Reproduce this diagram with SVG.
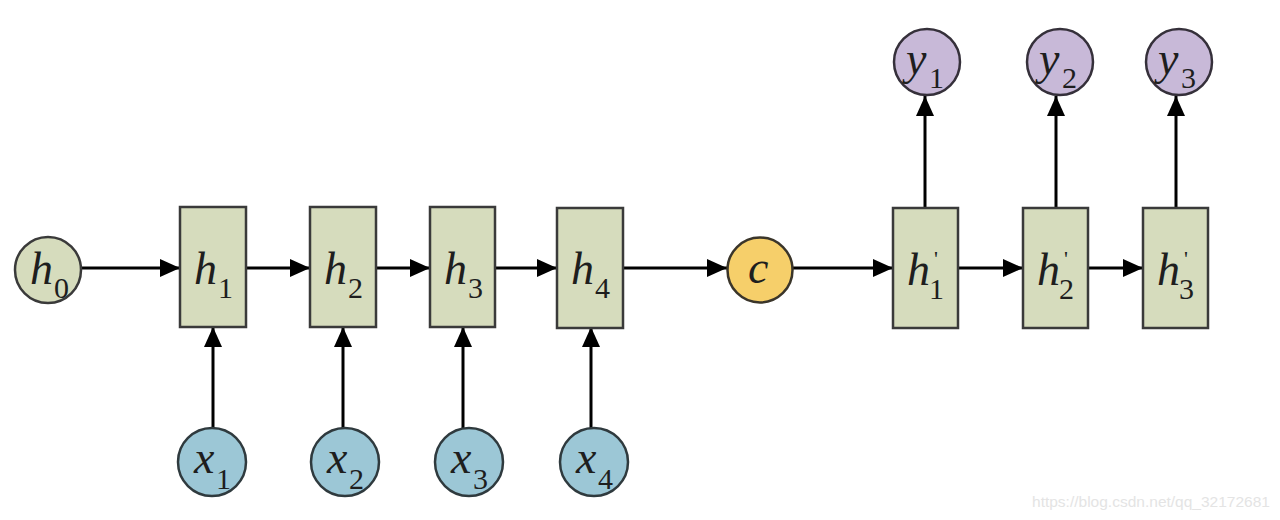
<svg xmlns="http://www.w3.org/2000/svg" width="1280" height="520" viewBox="0 0 1280 520">
<defs>
<marker id="arr" markerWidth="22" markerHeight="20" refX="20" refY="10" orient="auto" markerUnits="userSpaceOnUse">
<path d="M0,1 L20,10 L0,19 Z" fill="#000"/>
</marker>
<style>
.box{fill:#d6dcbd;stroke:#3a3a3a;stroke-width:2.5}
.hc{fill:#d6dcbd;stroke:#3a3a3a;stroke-width:2.5}
.xc{fill:#9cc7d6;stroke:#2f3a3e;stroke-width:2.5}
.yc{fill:#c8b9d8;stroke:#35303a;stroke-width:2.5}
.cc{fill:#f6cf6a;stroke:#3a352a;stroke-width:2.5}
.v{font-style:italic;font-size:46px;fill:#1e1e1e}
.s{font-size:30px;fill:#1e1e1e}
.p{font-size:22px;fill:#1e1e1e}
.ln{stroke:#000;stroke-width:3;fill:none;marker-end:url(#arr)}
.wm{font-size:15px;fill:#e4e4e4}
</style>
</defs>
<rect width="1280" height="520" fill="#fff"/>
<g id="connectors">
<line class="ln" x1="81" y1="268" x2="180" y2="268"/>
<line class="ln" x1="246" y1="268" x2="310" y2="268"/>
<line class="ln" x1="376" y1="268" x2="430" y2="268"/>
<line class="ln" x1="495" y1="268" x2="557" y2="268"/>
<line class="ln" x1="623" y1="268" x2="727" y2="268"/>
<line class="ln" x1="792" y1="268" x2="893" y2="268"/>
<line class="ln" x1="958" y1="268" x2="1023" y2="268"/>
<line class="ln" x1="1088" y1="268" x2="1143" y2="268"/>
<line class="ln" x1="213" y1="428" x2="213" y2="327"/>
<line class="ln" x1="343" y1="428" x2="343" y2="327"/>
<line class="ln" x1="463" y1="428" x2="463" y2="327"/>
<line class="ln" x1="591" y1="428" x2="591" y2="327"/>
<line class="ln" x1="925" y1="208" x2="925" y2="96"/>
<line class="ln" x1="1056" y1="208" x2="1056" y2="96"/>
<line class="ln" x1="1176" y1="208" x2="1176" y2="96"/>
</g>
<g font-family="Liberation Serif, DejaVu Serif, serif">
<g id="h0"><circle class="hc" cx="48" cy="270" r="33"/><text class="v" x="30" y="284">h</text><text class="s" x="54" y="298">0</text></g>
<g id="h1"><rect class="box" x="180" y="207" width="66" height="120"/><text class="v" x="194" y="284">h</text><text class="s" x="218" y="298">1</text></g>
<g id="h2"><rect class="box" x="310" y="207" width="66" height="120"/><text class="v" x="324" y="284">h</text><text class="s" x="348" y="298">2</text></g>
<g id="h3"><rect class="box" x="430" y="207" width="65" height="120"/><text class="v" x="444" y="284">h</text><text class="s" x="468" y="298">3</text></g>
<g id="h4"><rect class="box" x="557" y="208" width="66" height="120"/><text class="v" x="571" y="284">h</text><text class="s" x="595" y="298">4</text></g>
<g id="c"><circle class="cc" cx="760" cy="270" r="32.5"/><text class="v" x="748" y="283">c</text></g>
<g id="hp1"><rect class="box" x="893" y="208" width="65" height="120"/><text class="v" x="907" y="285">h</text><text class="s" x="929" y="299">1</text><text class="p" x="934" y="266">'</text></g>
<g id="hp2"><rect class="box" x="1023" y="208" width="65" height="120"/><text class="v" x="1037" y="285">h</text><text class="s" x="1059" y="299">2</text><text class="p" x="1064" y="266">'</text></g>
<g id="hp3"><rect class="box" x="1143" y="208" width="65" height="120"/><text class="v" x="1157" y="285">h</text><text class="s" x="1179" y="299">3</text><text class="p" x="1184" y="266">'</text></g>
<g id="y1"><circle class="yc" cx="927" cy="62" r="33"/><text class="v" x="906" y="74">y</text><text class="s" x="929" y="88">1</text></g>
<g id="y2"><circle class="yc" cx="1060" cy="62" r="33"/><text class="v" x="1039" y="74">y</text><text class="s" x="1062" y="88">2</text></g>
<g id="y3"><circle class="yc" cx="1179" cy="62" r="33"/><text class="v" x="1158" y="74">y</text><text class="s" x="1181" y="88">3</text></g>
<g id="x1"><circle class="xc" cx="212" cy="462" r="34"/><text class="v" x="194" y="473">x</text><text class="s" x="216" y="489">1</text></g>
<g id="x2"><circle class="xc" cx="345" cy="462" r="34"/><text class="v" x="327" y="473">x</text><text class="s" x="349" y="489">2</text></g>
<g id="x3"><circle class="xc" cx="469" cy="462" r="34"/><text class="v" x="451" y="473">x</text><text class="s" x="473" y="489">3</text></g>
<g id="x4"><circle class="xc" cx="594" cy="462" r="34"/><text class="v" x="576" y="473">x</text><text class="s" x="598" y="489">4</text></g>
</g>
<text class="wm" font-family="Liberation Sans, Arial, sans-serif" x="1032" y="507" textLength="238" lengthAdjust="spacingAndGlyphs">https://blog.csdn.net/qq_32172681</text>
</svg>
